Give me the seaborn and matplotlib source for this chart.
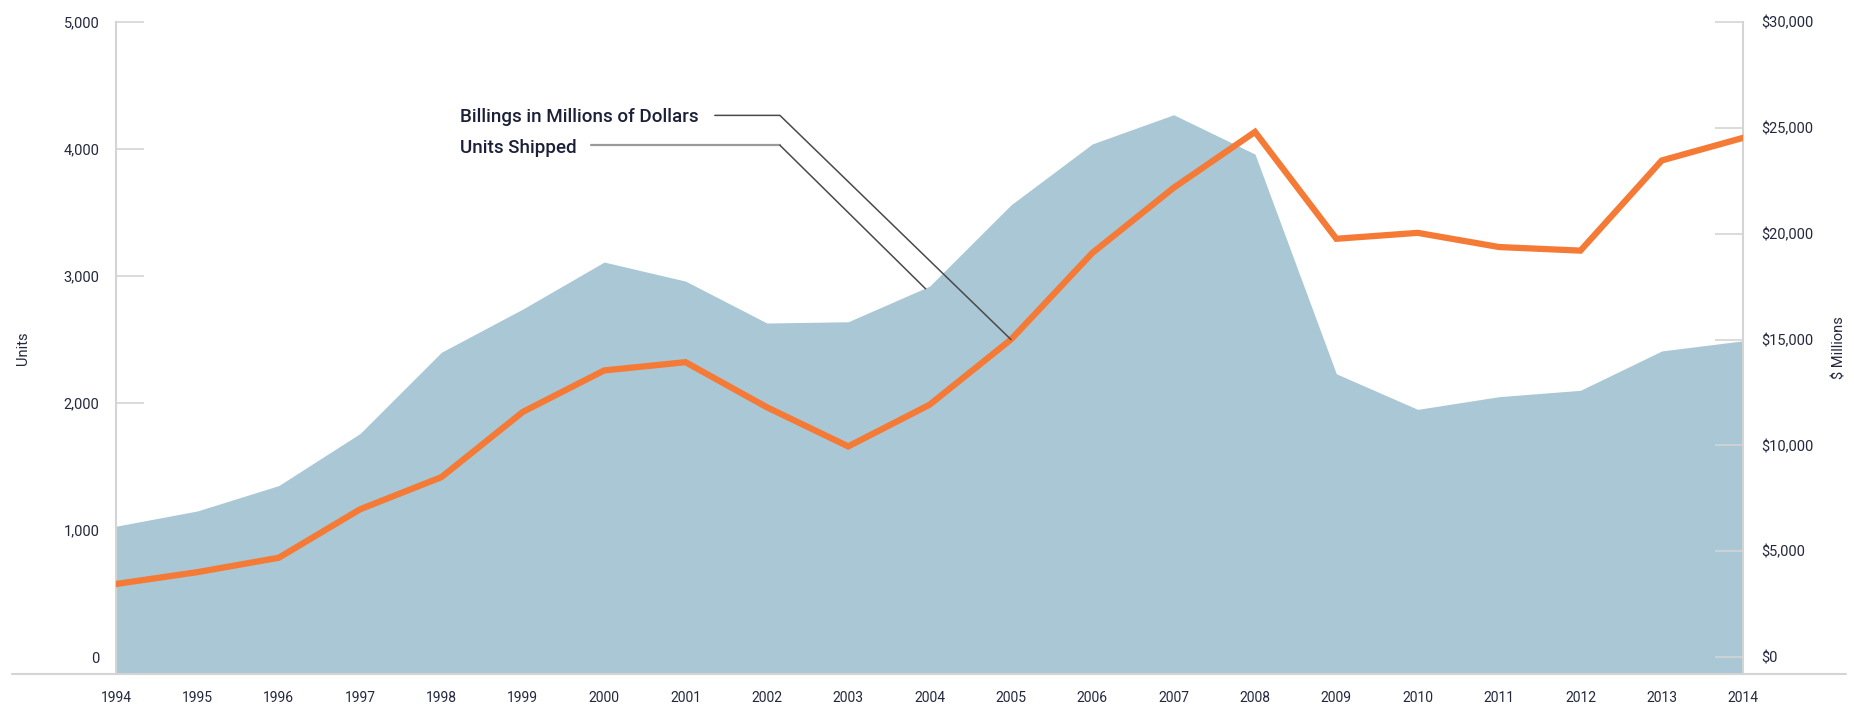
import numpy as np
import pandas as pd
import matplotlib
matplotlib.use('Agg')
import matplotlib.pyplot as plt
import seaborn as sns
from matplotlib.lines import Line2D
from matplotlib.ticker import FuncFormatter

years = [1994, 1995, 1996, 1997, 1998, 1999, 2000, 2001, 2002, 2003, 2004,
         2005, 2006, 2007, 2008, 2009, 2010, 2011, 2012, 2013, 2014]
units_shipped = [1030, 1150, 1350, 1760, 2400, 2740, 3110, 2960, 2630, 2640, 2920,
                 3560, 4040, 4270, 3960, 2230, 1950, 2050, 2100, 2410, 2490]
billings_musd = [3450, 4010, 4690, 6980, 8500, 11580, 13540, 13930, 11800, 9950, 11920,
                 15000, 19090, 22170, 24810, 19760, 20040, 19370, 19200, 23460, 24530]

units_ticks = [0, 1000, 2000, 3000, 4000, 5000]
dollar_ticks = [0, 5000, 10000, 15000, 20000, 25000, 30000]

df = pd.DataFrame({'year': years, 'units': units_shipped, 'billings': billings_musd})

sns.set_style('white')
plt.rcParams['font.family'] = ['Roboto', 'DejaVu Sans']

fill_col = '#a9c7d5'
line_col = '#f47a36'
grid_col = '#d4d4d4'
text_col = '#23283f'

fig = plt.figure(figsize=(18.54, 7.11), dpi=100)
ax = fig.add_axes([0.0626, 0.052, 0.8776, 0.917])
ax.set_xlim(1994, 2014)
ax.set_ylim(-134, 5000)
ax.fill_between(df['year'], df['units'], ax.get_ylim()[0], color=fill_col, lw=0, zorder=1)

ax2 = ax.twinx()
ax2.set_ylim(-134 * 6, 30000)
sns.lineplot(data=df, x='year', y='billings', ax=ax2, color=line_col, lw=4.5,
             zorder=3, solid_joinstyle='miter')

# axes styling
for s in ['top', 'right', 'bottom']:
    ax.spines[s].set_visible(False)
ax.spines['left'].set_color(grid_col)
ax.spines['left'].set_linewidth(1.5)
for s in ['top', 'left', 'bottom']:
    ax2.spines[s].set_visible(False)
ax2.spines['right'].set_color(grid_col)
ax2.spines['right'].set_linewidth(1.5)

ax.set_xticks(years)
ax.set_xticklabels([str(y) for y in years])
ax.set_yticks(units_ticks)
ax.yaxis.set_major_formatter(FuncFormatter(lambda v, p: f'{v:,.0f}'))
ax2.set_yticks(dollar_ticks)
ax2.yaxis.set_major_formatter(FuncFormatter(lambda v, p: f'${v:,.0f}'))

ax.tick_params(axis='y', direction='in', length=20, width=1.2, color=grid_col,
               pad=12, labelsize=10.5, labelcolor=text_col)
ax.tick_params(axis='x', direction='in', length=12, width=1.2, color=grid_col,
               pad=12, labelsize=10, labelcolor=text_col)
ax2.tick_params(axis='y', direction='in', length=20, width=1.2, color=grid_col,
                pad=13, labelsize=10.5, labelcolor=text_col)

ax.set_xlabel('')
ax2.set_xlabel('')
ax.set_ylabel('Units', fontsize=10.5, color=text_col, labelpad=24)
ax2.set_ylabel('$ Millions', fontsize=10.5, color=text_col, labelpad=14)

# extended baseline
ax.add_line(Line2D([-0.064, 1.063], [0, 0], transform=ax.transAxes, color=grid_col,
                   lw=1.5, clip_on=False, zorder=4))

# annotation labels with leader lines (in units coordinates)
ax2.text(1998.23, 4255, 'Billings in Millions of Dollars', transform=ax.transData,
         fontsize=13.5, color='#1b2038', va='center', ha='left', fontweight='medium')
ax2.text(1998.23, 4005, 'Units Shipped', transform=ax.transData,
         fontsize=13.5, color='#1b2038', va='center', ha='left', fontweight='medium')
ax2.plot([2001.36, 2002.16, 2005.0], [4265, 4265, 15000 / 6], transform=ax.transData,
         color='#4a4a4a', lw=1.1, zorder=5)
ax2.plot([1999.84, 2002.16], [4030, 4030], transform=ax.transData,
         color='#9a9a9a', lw=1.6, zorder=5)
ax2.plot([2002.16, 2003.95], [4030, 2900], transform=ax.transData,
         color='#4a4a4a', lw=1.1, zorder=5)

fig.savefig('out.png', dpi=100)
